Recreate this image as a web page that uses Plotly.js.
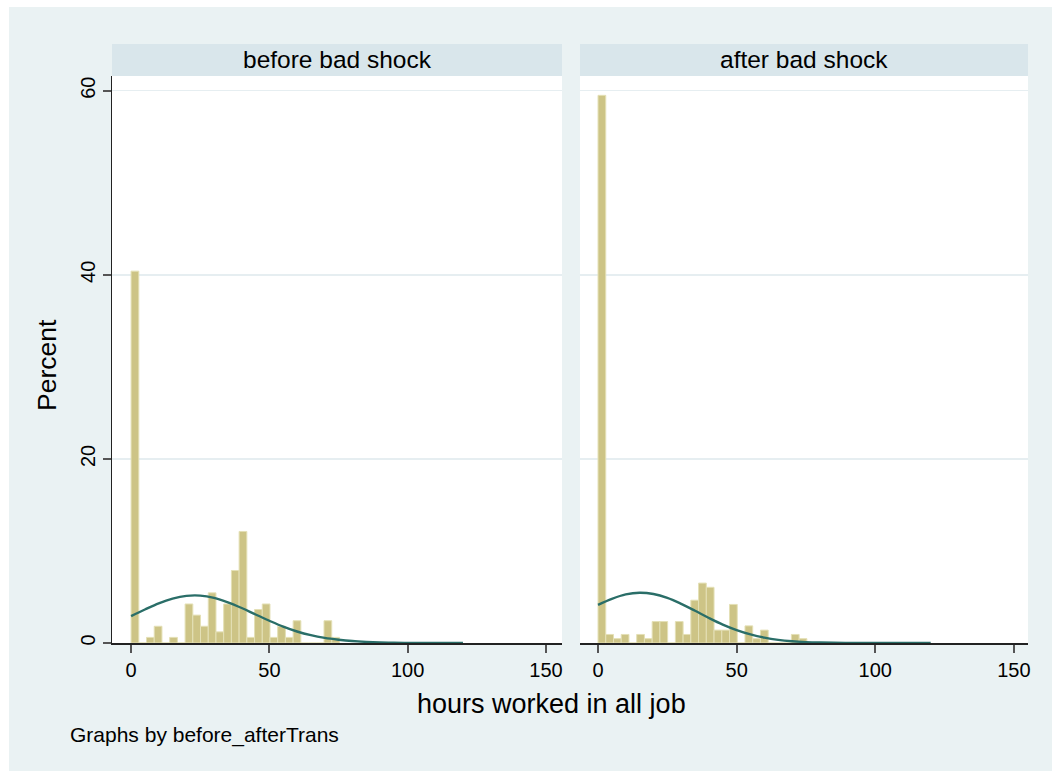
<!DOCTYPE html>
<html>
<head>
<meta charset="utf-8">
<script src="https://cdn.plot.ly/plotly-3.0.1.min.js"></script>
<style>html,body{margin:0;padding:0;background:#fff}#chart{width:1052px;height:771px}</style>
</head>
<body>
<div id="chart"></div>
<script>
// ---- data ----
var panelTitles = ["before bad shock", "after bad shock"];
var binWidth = 2.79;            // hours per histogram bin
// percent per bin, bins starting at 0 hours
var percentBefore = [40.4, 0, 0.61, 1.82, 0, 0.61, 0, 4.24, 3.03, 1.82, 5.45, 1.21, 4.24, 7.88, 12.12,
                     0.61, 3.64, 4.24, 0.61, 1.82, 0.61, 2.42, 0, 0, 0, 2.42, 0.61];
var percentAfter  = [59.5, 0.93, 0.47, 0.93, 0, 0.93, 0.47, 2.33, 2.33, 0, 2.33, 0.93, 4.65, 6.51, 6.05,
                     1.40, 1.40, 4.19, 0, 1.86, 0.47, 1.40, 0, 0, 0, 0.93, 0.47];
// overlaid normal curve
var curveHours  = [0, 5, 10, 15, 20, 25, 30, 35, 40, 45, 50, 55, 60, 65, 70, 75, 80, 85, 90, 95, 100, 105, 110, 115, 120];
var curveBefore = [2.92, 3.64, 4.31, 4.82, 5.12, 5.15, 4.90, 4.42, 3.80, 3.10, 2.42, 1.78, 1.25, 0.85, 0.56, 0.36, 0.21, 0.12, 0.06, 0.03, 0.015, 0.006, 0.002, 0.001, 0];
var curveAfter  = [4.15, 4.80, 5.28, 5.46, 5.32, 4.90, 4.25, 3.50, 2.72, 2.00, 1.40, 0.93, 0.58, 0.34, 0.19, 0.10, 0.05, 0.02, 0.01, 0.005, 0.002, 0.001, 0, 0, 0];
var xTicks = [0, 50, 100, 150];
var yTicks = [0, 20, 40, 60];
var xTitle = "hours worked in all job";
var yTitle = "Percent";
var note = "Graphs by before_afterTrans";

// ---- build ----
var W = 1052, H = 771;
function px(x) { return x / W; }
function py(y) { return 1 - y / H; }
function centers(arr) { return arr.map(function (_, i) { return (i + 0.5) * binWidth; }); }

var barStyle = { color: "#cdc486", line: { color: "#e4e0b6", width: 1 } };
var lineStyle = { color: "#2a6e68", width: 2.4, shape: "spline" };

var traces = [
  { type: "bar", x: centers(percentBefore), y: percentBefore, width: binWidth, marker: barStyle, xaxis: "x", yaxis: "y", hoverinfo: "x+y" },
  { type: "scatter", mode: "lines", x: curveHours, y: curveBefore, line: lineStyle, xaxis: "x", yaxis: "y" },
  { type: "bar", x: centers(percentAfter), y: percentAfter, width: binWidth, marker: barStyle, xaxis: "x2", yaxis: "y2", hoverinfo: "x+y" },
  { type: "scatter", mode: "lines", x: curveHours, y: curveAfter, line: lineStyle, xaxis: "x2", yaxis: "y2" }
];

var fontFam = "Liberation Sans, Arial, Helvetica, sans-serif";
var plotTop = 76, plotBot = 643;
var yDom = [py(plotBot), py(plotTop)];
var yRange = [0, 61.6];

function xAxis(dom, range, anchor) {
  return {
    domain: dom, range: range, anchor: anchor,
    tickvals: xTicks, ticktext: xTicks.map(String),
    ticks: "outside", ticklen: 8, tickwidth: 2, tickcolor: "#555",
    showline: true, linecolor: "#222", linewidth: 1.5,
    showgrid: false, zeroline: false,
    tickfont: { family: fontFam, size: 20, color: "#000" }
  };
}
function yAxis(anchor, showLabels) {
  return {
    domain: yDom, range: yRange, anchor: anchor,
    tickvals: yTicks, ticktext: yTicks.map(String),
    showticklabels: showLabels,
    ticks: showLabels ? "outside" : "", ticklen: 8, tickwidth: 2, tickcolor: "#555",
    tickangle: -90,
    showline: showLabels, linecolor: "#222", linewidth: 1.5,
    showgrid: true, gridcolor: "#e6eef1", gridwidth: 1.5,
    zeroline: false,
    tickfont: { family: fontFam, size: 20, color: "#000" }
  };
}

var leftDom = [px(112), px(562)];
var rightDom = [px(580), px(1028)];

var layout = {
  width: W, height: H,
  margin: { l: 0, r: 0, t: 0, b: 0 },
  paper_bgcolor: "#ffffff",
  plot_bgcolor: "#ffffff",
  showlegend: false,
  bargap: 0,
  xaxis: xAxis(leftDom, [-6.9, 155.8], "y"),
  yaxis: yAxis("x", true),
  xaxis2: xAxis(rightDom, [-6.5, 155.1], "y2"),
  yaxis2: yAxis("x2", false),
  shapes: [
    { type: "rect", xref: "paper", yref: "paper", x0: px(9), x1: 1, y0: 0, y1: py(7), fillcolor: "#eaf2f3", line: { width: 0 }, layer: "below" },
    { type: "rect", xref: "paper", yref: "paper", x0: px(112), x1: px(562), y0: py(76), y1: py(44), fillcolor: "#d9e6eb", line: { width: 0 }, layer: "below" },
    { type: "rect", xref: "paper", yref: "paper", x0: px(580), x1: px(1028), y0: py(76), y1: py(44), fillcolor: "#d9e6eb", line: { width: 0 }, layer: "below" },
    { type: "rect", xref: "paper", yref: "paper", x0: px(112), x1: px(562), y0: py(plotBot), y1: py(plotTop), fillcolor: "#ffffff", line: { width: 0 }, layer: "below" },
    { type: "rect", xref: "paper", yref: "paper", x0: px(580), x1: px(1028), y0: py(plotBot), y1: py(plotTop), fillcolor: "#ffffff", line: { width: 0 }, layer: "below" }
  ],
  annotations: [
    { text: panelTitles[0], xref: "paper", yref: "paper", x: px(337), y: py(60), showarrow: false, xanchor: "center", yanchor: "middle", font: { family: fontFam, size: 24.5, color: "#000" } },
    { text: panelTitles[1], xref: "paper", yref: "paper", x: px(804), y: py(60), showarrow: false, xanchor: "center", yanchor: "middle", font: { family: fontFam, size: 24.5, color: "#000" } },
    { text: xTitle, xref: "paper", yref: "paper", x: px(551), y: py(704), showarrow: false, xanchor: "center", yanchor: "middle", font: { family: fontFam, size: 27, color: "#000" } },
    { text: yTitle, xref: "paper", yref: "paper", x: px(47), y: py(365), showarrow: false, textangle: -90, xanchor: "center", yanchor: "middle", font: { family: fontFam, size: 26.5, color: "#000" } },
    { text: note, xref: "paper", yref: "paper", x: px(68), y: py(735), showarrow: false, xanchor: "left", yanchor: "middle", font: { family: fontFam, size: 21, color: "#000" } }
  ]
};

Plotly.newPlot("chart", traces, layout, { displayModeBar: false, staticPlot: true });
</script>
</body>
</html>
